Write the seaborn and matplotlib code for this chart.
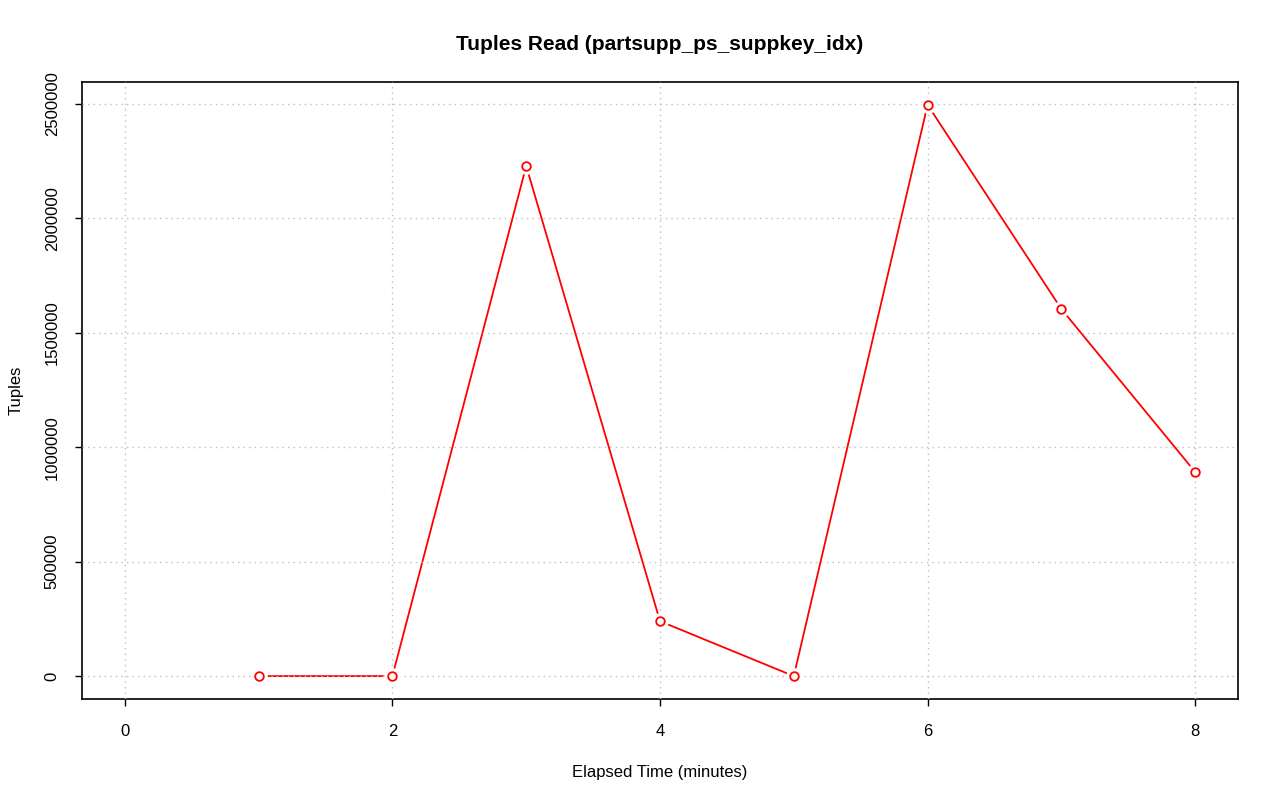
import matplotlib
matplotlib.use("Agg")
import matplotlib.pyplot as plt
import seaborn as sns
import pandas as pd

minutes = [1, 2, 3, 4, 5, 6, 7, 8]
tuples = [0, 0, 2229000, 240000, 0, 2496000, 1604000, 892000]
x_ticks = [0, 2, 4, 6, 8]
y_ticks = [0, 500000, 1000000, 1500000, 2000000, 2500000]

df = pd.DataFrame({"minutes": minutes, "tuples": tuples})

sns.set_style("white")
plt.rcParams["font.family"] = ["Liberation Sans", "DejaVu Sans"]
plt.rcParams["text.color"] = "black"
plt.rcParams["axes.labelcolor"] = "black"

fig = plt.figure(figsize=(12.8, 8.01), dpi=100)
ax = fig.add_axes([82/1280, 1 - 699/801, (1238-82)/1280, (699-82)/801])

sns.lineplot(data=df, x="minutes", y="tuples", color="red", linewidth=1.3, ax=ax, zorder=2)
ax.plot(df["minutes"], df["tuples"], linestyle="none", marker="o", markersize=11,
        markerfacecolor="white", markeredgecolor="white", zorder=4)
ax.plot(df["minutes"], df["tuples"], linestyle="none", marker="o", markersize=6.2,
        markerfacecolor="white", markeredgecolor="red", markeredgewidth=1.3, zorder=5)

ax.set_xlim(-0.32, 8.32)
ax.set_ylim(-100000, 2596000)
ax.set_xticks(x_ticks)
ax.set_xticklabels([str(v) for v in x_ticks])
ax.set_yticks(y_ticks)
ax.set_yticklabels([str(v) for v in y_ticks], rotation=90, va="center")

for v in x_ticks:
    ax.axvline(v, color="#bebebe", linestyle=(0, (1, 3)), linewidth=1.0, zorder=3)
for v in y_ticks:
    ax.axhline(v, color="#bebebe", linestyle=(0, (1, 3)), linewidth=1.0, zorder=3)

for s in ax.spines.values():
    s.set_color("black")
    s.set_linewidth(1.2)

ax.tick_params(axis="both", direction="out", length=5, width=1, color="black",
               labelsize=12, labelcolor="black", bottom=True, left=True)
ax.tick_params(axis="x", pad=13)
ax.tick_params(axis="y", pad=11)

ax.set_xlabel("Elapsed Time (minutes)", fontsize=12, labelpad=19)
ax.set_ylabel("Tuples", fontsize=12, labelpad=15)
ax.set_title("Tuples Read (partsupp_ps_suppkey_idx)", fontsize=15, fontweight="bold", pad=23)

fig.savefig("out.png", dpi=100)
